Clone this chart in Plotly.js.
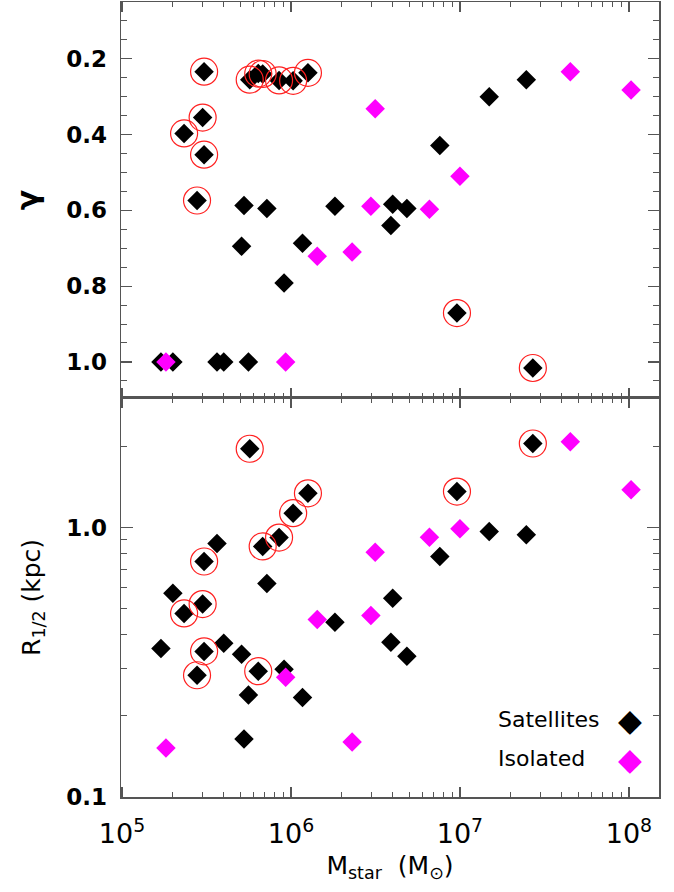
<!DOCTYPE html>
<html>
<head>
<meta charset="utf-8">
<script src="https://cdn.plot.ly/plotly-3.0.1.min.js"></script>
<style>html,body{margin:0;padding:0;background:#fff;}</style>
</head>
<body>
<div id="chart" style="width:674px;height:892px;"></div>
<script>
// Satellites (black diamonds)
const satMass  = [3.06e5, 5.7e5, 6.4e5, 6.8e5, 8.5e5, 1.03e6, 1.26e6, 3.0e5, 2.33e5, 3.06e5,
                  2.78e5, 5.27e5, 7.2e5, 1.82e6, 4.0e6, 3.9e6, 4.85e6, 5.1e5, 1.17e6, 9.1e5,
                  1.7e5, 2.0e5, 3.65e5, 4.0e5, 5.6e5, 9.6e6, 2.7e7, 7.6e6, 1.49e7, 2.47e7];
const satGamma = [0.234, 0.255, 0.239, 0.24, 0.257, 0.258, 0.237, 0.355, 0.397, 0.453,
                  0.574, 0.587, 0.595, 0.589, 0.584, 0.64, 0.595, 0.695, 0.687, 0.792,
                  1.0, 1.0, 1.0, 1.0, 1.0, 0.871, 1.016, 0.429, 0.30, 0.255];
const satR     = [0.748, 1.96, 0.293, 0.851, 0.918, 1.13, 1.34, 0.52, 0.48, 0.347,
                  0.283, 0.164, 0.62, 0.445, 0.546, 0.375, 0.333, 0.339, 0.234, 0.298,
                  0.356, 0.57, 0.873, 0.372, 0.239, 1.36, 2.05, 0.78, 0.966, 0.94];
const satCircled = [1,1,1,1,1,1,1,1,1,1, 1,0,0,0,0,0,0,0,0,0, 0,0,0,0,0,1,1,0,0,0];

// Isolated (magenta diamonds)
const isoMass  = [3.15e6, 4.5e7, 1.03e8, 1.0e7, 2.97e6, 1.43e6, 2.3e6, 1.82e5, 9.3e5, 6.6e6];
const isoGamma = [0.332, 0.234, 0.282, 0.51, 0.589, 0.721, 0.71, 1.0, 1.0, 0.597];
const isoR     = [0.81, 2.08, 1.38, 0.99, 0.472, 0.456, 0.16, 0.152, 0.278, 0.92];

// Tick labels
const xTickVals = [1e5, 1e6, 1e7, 1e8];
const xTickText = ['10<sup>5</sup>', '10<sup>6</sup>', '10<sup>7</sup>', '10<sup>8</sup>'];
const gTickVals = [0.2, 0.4, 0.6, 0.8, 1.0];
const gTickText = ['0.2', '0.4', '0.6', '0.8', '1.0'];
const rTickVals = [0.1, 1.0];
const rTickText = ['0.1', '1.0'];

const xMinor = [];
[1e5, 1e6, 1e7, 1e8].forEach(d => { for (let k = 2; k <= 9; k++) xMinor.push(k * d); });
const rMinor = [0.2,0.3,0.4,0.5,0.6,0.7,0.8,0.9,2,3];

const cM = satMass.filter((_, i) => satCircled[i]);
const cG = satGamma.filter((_, i) => satCircled[i]);
const cR = satR.filter((_, i) => satCircled[i]);

const FONT = 'DejaVu Sans';
const W = 'bold';
const diamondSize = 15;
const circleStyle = {symbol: 'circle-open', size: 27, color: '#ff2020', line: {width: 1.2, color: '#ff2020'}};

const traces = [
  {x: satMass, y: satGamma, xaxis: 'x2', yaxis: 'y2', type: 'scatter', mode: 'markers',
   marker: {symbol: 'diamond', size: diamondSize, color: '#000', line: {width: 0}}},
  {x: isoMass, y: isoGamma, xaxis: 'x2', yaxis: 'y2', type: 'scatter', mode: 'markers',
   marker: {symbol: 'diamond', size: diamondSize, color: '#ff00ff', line: {width: 0}}},
  {x: cM, y: cG, xaxis: 'x2', yaxis: 'y2', type: 'scatter', mode: 'markers', marker: circleStyle},
  {x: satMass, y: satR, xaxis: 'x', yaxis: 'y', type: 'scatter', mode: 'markers',
   marker: {symbol: 'diamond', size: diamondSize, color: '#000', line: {width: 0}}},
  {x: isoMass, y: isoR, xaxis: 'x', yaxis: 'y', type: 'scatter', mode: 'markers',
   marker: {symbol: 'diamond', size: diamondSize, color: '#ff00ff', line: {width: 0}}},
  {x: cM, y: cR, xaxis: 'x', yaxis: 'y', type: 'scatter', mode: 'markers', marker: circleStyle}
];

const axisCommon = {
  showgrid: false, zeroline: false, showline: true, linecolor: '#555', linewidth: 1.5,
  mirror: 'ticks', ticks: 'inside', tickcolor: '#555', tickwidth: 1.2,
  tickfont: {family: FONT, size: 23, color: '#000', weight: W}
};

const SPLIT = 0.502;

const layout = {
  width: 674, height: 892,
  margin: {l: 121, r: 15, t: 2, b: 95},
  paper_bgcolor: '#fff', plot_bgcolor: '#fff',
  showlegend: false,
  font: {family: FONT, color: '#000'},
  xaxis: Object.assign({}, axisCommon, {
    type: 'log', range: [4.994, 8.178], anchor: 'y', domain: [0, 1],
    tickmode: 'array', tickvals: xTickVals, ticktext: xTickText, ticklen: 10,
    tickfont: {family: FONT, size: 27, color: '#000'}, ticklabelstandoff: 12,
    minor: {tickmode: 'array', tickvals: xMinor, ticklen: 5, ticks: 'inside', tickcolor: '#555', tickwidth: 1},
    title: {text: 'M<sub>star</sub>  (M<sub>⊙</sub>)', font: {family: FONT, size: 25, color: '#000'}, standoff: 8}
  }),
  xaxis2: Object.assign({}, axisCommon, {
    type: 'log', range: [4.994, 8.178], anchor: 'y2', domain: [0, 1], matches: 'x',
    tickmode: 'array', tickvals: xTickVals, ticktext: xTickText, ticklen: 10, showticklabels: false,
    minor: {tickmode: 'array', tickvals: xMinor, ticklen: 5, ticks: 'inside', tickcolor: '#555', tickwidth: 1}
  }),
  yaxis: Object.assign({}, axisCommon, {
    type: 'log', range: [-1, 0.481], anchor: 'x', domain: [0, SPLIT],
    tickmode: 'array', tickvals: rTickVals, ticktext: rTickText, ticklen: 12, ticklabelstandoff: 8,
    minor: {tickmode: 'array', tickvals: rMinor, ticklen: 6, ticks: 'inside', tickcolor: '#555', tickwidth: 1},
    title: {text: 'R<sub>1/2</sub> (kpc)', font: {family: FONT, size: 25, color: '#000'}, standoff: 18}
  }),
  yaxis2: Object.assign({}, axisCommon, {
    range: [1.095, 0.05], anchor: 'x2', domain: [SPLIT, 1],
    tickmode: 'array', tickvals: gTickVals, ticktext: gTickText, ticklen: 11, ticklabelstandoff: 8,
    minor: {dtick: 0.05, ticklen: 6, ticks: 'inside', tickcolor: '#555', tickwidth: 1},
    title: {text: 'γ', font: {family: FONT, size: 30, color: '#000', weight: W}, standoff: 18}
  }),
  annotations: [
    {xref: 'paper', yref: 'paper', x: 0.697, y: 0.0969, xanchor: 'left', yanchor: 'middle',
     text: 'Satellites', showarrow: false, font: {family: FONT, size: 22, color: '#000'}},
    {xref: 'paper', yref: 'paper', x: 0.946, y: 0.0969, xanchor: 'center', yanchor: 'middle',
     text: '◆', showarrow: false, font: {family: FONT, size: 31, color: '#000'}},
    {xref: 'paper', yref: 'paper', x: 0.697, y: 0.0478, xanchor: 'left', yanchor: 'middle',
     text: 'Isolated', showarrow: false, font: {family: FONT, size: 22, color: '#000'}},
    {xref: 'paper', yref: 'paper', x: 0.946, y: 0.0478, xanchor: 'center', yanchor: 'middle',
     text: '◆', showarrow: false, font: {family: FONT, size: 31, color: '#ff00ff'}}
  ]
};

Plotly.newPlot('chart', traces, layout, {displayModeBar: false, staticPlot: true});
</script>
</body>
</html>
